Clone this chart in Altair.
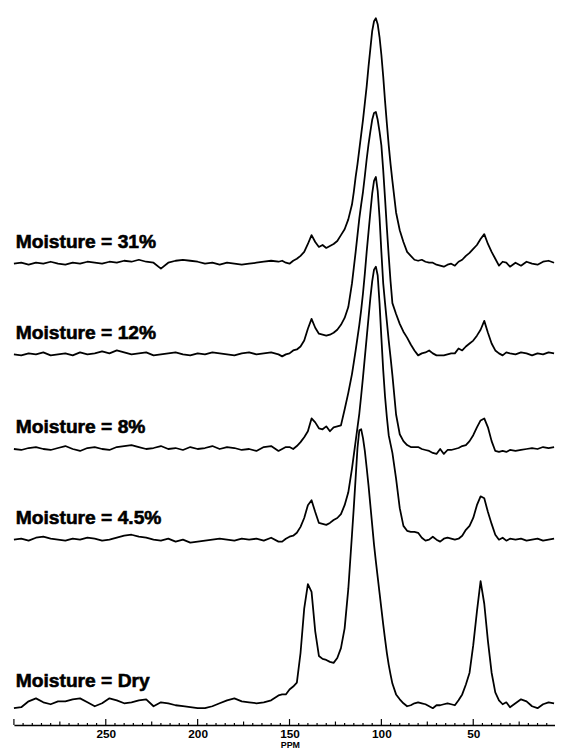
import altair as alt
import pandas as pd

# Chemical shift sampling grid (ppm)
PPM = [
    300, 296, 292, 288, 284, 280, 276, 272, 268, 264,
    260, 256, 252, 248, 244, 240, 236, 232, 228, 224,
    220, 216, 212, 208, 204, 200, 196, 192, 188, 184,
    180, 176, 172, 168, 164, 160, 156,
    154, 152, 150, 148, 146, 144, 142, 140, 138, 136,
    134, 132, 130, 128, 126, 124, 122, 120, 118,
    116, 115, 114, 113, 112, 111, 110, 109, 108, 107, 106, 105,
    104, 103, 102, 101, 100, 99, 98, 97, 96, 95, 94,
    92, 90, 88, 86, 84, 82, 80, 78, 76,
    74, 72, 70, 68, 66, 64, 62, 60, 58, 56,
    54, 52, 50, 48, 46, 44, 42, 40, 38, 36,
    34, 32, 30,
    27, 24, 21, 18, 15, 12, 9, 6,
]

SERIES = ["Moisture = 31%", "Moisture = 12%", "Moisture = 8%",
          "Moisture = 4.5%", "Moisture = Dry"]

# vertical stacking offset of each spectrum (intensity units)
OFFSETS = [468, 376, 280, 188, 23]

# intensities relative to each spectrum's own baseline
M31 = [
    0, 1, -1, 1, 0, 2, 0, -1, 1, 0,
    2, 1, 0, 2, 1, 3, 2, 4, 2, 1,
    -5, 1, 3, 4, 3, 2, 0, 1, -1, 1,
    0, -1, 0, 1, 2, 3, 2,
    3, 1, 0, 3, 5, 8, 12, 20, 29, 22,
    17, 19, 16, 18, 20, 23, 29, 35, 45,
    60, 73, 88, 101, 116, 131, 146, 163, 180, 200, 218, 236,
    246, 249, 243, 230, 212, 190, 165, 142, 120, 101, 84,
    52, 34, 22, 12, 8, 4, 3, 4, 2,
    1, 1, -1, -2, -3, -1, 0, -2, 2, 4,
    8, 11, 15, 19, 25, 30, 20, 12, 5, -2,
    2, 1, -3,
    1, -2, 2, 0, -1, 2, 3, 1,
]

M12 = [
    0, -1, 1, 0, 2, -1, 0, 1, -1, 2,
    0, 1, 3, 1, 4, 2, 0, 1, 2, -1,
    0, 1, 2, 0, -1, 1, 0, 2, 1, 0,
    -1, 1, 2, 0, 1, 2, 0,
    -2, 0, 1, 4, 5, 8, 14, 26, 36, 27,
    21, 20, 19, 20, 22, 25, 30, 37, 48,
    72, 88, 104, 121, 138, 152, 165, 181, 198, 213, 226, 238,
    245, 246, 238, 226, 212, 187, 158, 128, 100, 74, 52,
    41, 31, 23, 17, 10, 4, -1, 1, 2,
    4, 1, -1, -1, -1, 0, 1, 1, 6, 4,
    8, 11, 14, 19, 25, 34, 22, 11, 4, 1,
    -1, 2, 1,
    0, 2, 1, -1, 1, 0, 2, 1,
]

M8 = [
    0, -1, 1, 2, 0, -1, 1, 3, 0, -2,
    1, 2, 0, -1, 2, 3, 4, 2, 0, 1,
    3, 0, 1, -1, 2, 0, 1, 3, 0, 2,
    1, -1, 0, -2, 2, 3, -2,
    0, 2, 2, 0, 3, 7, 12, 18, 31, 27,
    21, 20, 23, 18, 22, 23, 24, 40, 57,
    76, 88, 100, 113, 126, 141, 158, 178, 200, 220, 240, 259,
    272, 276, 262, 235, 200, 168, 148, 129, 110, 93, 75,
    35, 15, 8, 4, 2, 2, 2, 0, -1,
    -2, -4, -5, 0, -5, -1, -1, 0, 1, 3,
    4, 8, 14, 22, 29, 31, 22, 8, -2, -3,
    -2, -3, -1,
    -2, -1, 0, 1, 0, 2, 1, 2,
]

M45 = [
    0, 1, -1, 2, 3, 1, 0, -1, 1, 0,
    2, 1, -1, 0, 2, 4, 5, 3, 2, 0,
    -1, 1, -2, 0, -3, -2, -1, 0, 1, 0,
    -1, 1, 0, 1, -1, 2, -2,
    -2, 1, 3, 4, 7, 13, 22, 35, 40, 28,
    17, 16, 15, 17, 20, 22, 26, 35, 48,
    72, 86, 100, 114, 128, 146, 165, 185, 205, 225, 245, 262,
    274, 277, 268, 240, 205, 172, 145, 124, 106, 97, 88,
    62, 32, 14, 9, 8, 8, 7, 2, -1,
    0, 3, 0, -2, 1, 2, 1, 0, 1, 4,
    10, 14, 22, 35, 44, 42, 28, 16, 5, 0,
    2, -1, 1,
    0, 1, -1, 0, 1, -1, 0, 1,
]

MDRY = [
    -6, -5, 1, 4, 0, -2, 1, 1, 3, 4,
    0, -4, -1, 4, 2, -1, 0, 2, 3, -4,
    0, -1, -3, -4, -5, -6, -6, -4, -1, 2,
    4, 1, 0, -1, 0, 2, 7,
    8, 8, 13, 16, 20, 50, 95, 120, 112, 72,
    47, 44, 43, 41, 40, 45, 55, 75, 115,
    170, 198, 228, 258, 276, 277, 268, 255, 238, 220, 200, 180,
    160, 143, 127, 111, 95, 79, 64, 50, 38, 28, 19,
    8, 3, -1, -4, -3, -1, 0, -1, -2,
    -4, -6, -3, -3, -2, -1, -2, -3, 2, 8,
    18, 30, 58, 92, 123, 100, 62, 30, 10, 2,
    -2, 0, -5,
    -1, 3, 1, -4, -6, -2, 0, -1,
]

TRACES = [M31, M12, M8, M45, MDRY]

# axis tick positions (ppm)
TICK_LABELS = [250, 200, 150, 100, 50]
MAJOR_TICKS = [300, 250, 200, 150, 100, 50]
MID_TICKS = [275, 225, 175, 125, 75, 25]
MINOR_TICKS = [p for p in range(10, 300, 5) if p % 25 != 0]

# ---- build tables ----
rows = []
for name, off, vals in zip(SERIES, OFFSETS, TRACES):
    for p, v in zip(PPM, vals):
        rows.append({"series": name, "ppm": p, "y": off + v})
df = pd.DataFrame(rows)

lab_df = pd.DataFrame({"series": SERIES, "ppm": [299] * len(SERIES),
                       "y": [o + 16 for o in OFFSETS]})

tick_rows = ([{"ppm": p, "base": 0, "top": 6} for p in MAJOR_TICKS]
             + [{"ppm": p, "base": 0, "top": 3.5} for p in MID_TICKS]
             + [{"ppm": p, "base": 0, "top": 2} for p in MINOR_TICKS])
tick_df = pd.DataFrame(tick_rows)

W, H = 549, 722
FONT = "Liberation Sans, Arial, Helvetica, sans-serif"

x_scale = alt.Scale(domain=[300, 5.5], nice=False, zero=False)
y_scale = alt.Scale(domain=[0, H], nice=False, zero=False)

x_axis = alt.Axis(
    values=TICK_LABELS, title="PPM", ticks=False, tickSize=0, grid=False,
    domainColor="black", domainWidth=1.5,
    labelFont=FONT, labelFontWeight="bold", labelFontSize=12,
    labelColor="black", labelPadding=4,
    titleFont=FONT, titleFontWeight="bold", titleFontSize=9,
    titleColor="black", titleX=280, titleY=23, titleBaseline="alphabetic",
)

x_enc = alt.X("ppm:Q", scale=x_scale, axis=x_axis)

lines = alt.Chart(df).mark_line(
    color="black", strokeWidth=1.8, strokeJoin="round"
).encode(
    x=x_enc,
    y=alt.Y("y:Q", scale=y_scale, axis=None),
    detail="series:N",
)

ticks = alt.Chart(tick_df).mark_rule(color="black", strokeWidth=1.2).encode(
    x=x_enc,
    y=alt.Y("base:Q", scale=y_scale, axis=None),
    y2="top:Q",
)

labels = alt.Chart(lab_df).mark_text(
    align="left", baseline="alphabetic", font=FONT, fontWeight="bold",
    fontSize=19.5, color="black", stroke="black", strokeWidth=0.6
).encode(
    x=x_enc,
    y=alt.Y("y:Q", scale=y_scale, axis=None),
    text="series:N",
)

chart = alt.layer(lines, ticks, labels).properties(
    width=W, height=H,
    autosize=alt.AutoSizeParams(type="none"),
    padding={"left": 6, "top": 0, "right": 0, "bottom": 23},
    background="white",
).configure_view(stroke=None)

chart.save("out.html", embed_options={"renderer": "svg", "actions": False})
